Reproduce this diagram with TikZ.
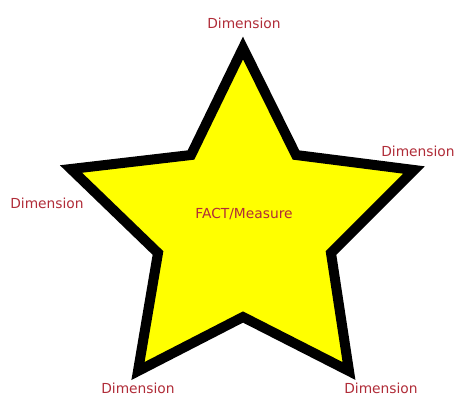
\documentclass[tikz,border=0pt]{standalone}
\usepackage{fontspec}
\setmainfont{DejaVu Sans}
\definecolor{dimred}{RGB}{176,44,56}
\definecolor{staryellow}{RGB}{255,255,0}
\begin{document}
\begin{tikzpicture}[
        x=1pt, y=-1pt,
        dimlabel/.style={text=dimred, font=\fontsize{13.8}{16}\selectfont, inner sep=0pt},
        starline/.style={line width=10pt, line join=miter, miter limit=3, fill=staryellow, draw=black}
    ]
        \useasboundingbox (0,0) rectangle (456,397);

        % Star
        \draw[starline] (243,48) -- (296,155) -- (414,170) -- (331,253) -- (349,371)
            -- (243,317) -- (138,371) -- (158,253) -- (71,169) -- (191,155) -- cycle;

        % Labels
        \node[dimlabel] (fact) at (244,214) {FACT/Measure};
        \node[dimlabel] (dtop) at (244,23) {Dimension};
        \node[dimlabel] (dright) at (418,151) {Dimension};
        \node[dimlabel] (dleft) at (47,203) {Dimension};
        \node[dimlabel] (dbl) at (138,388) {Dimension};
        \node[dimlabel] (dbr) at (381,388) {Dimension};

    \end{tikzpicture}
\end{document}
